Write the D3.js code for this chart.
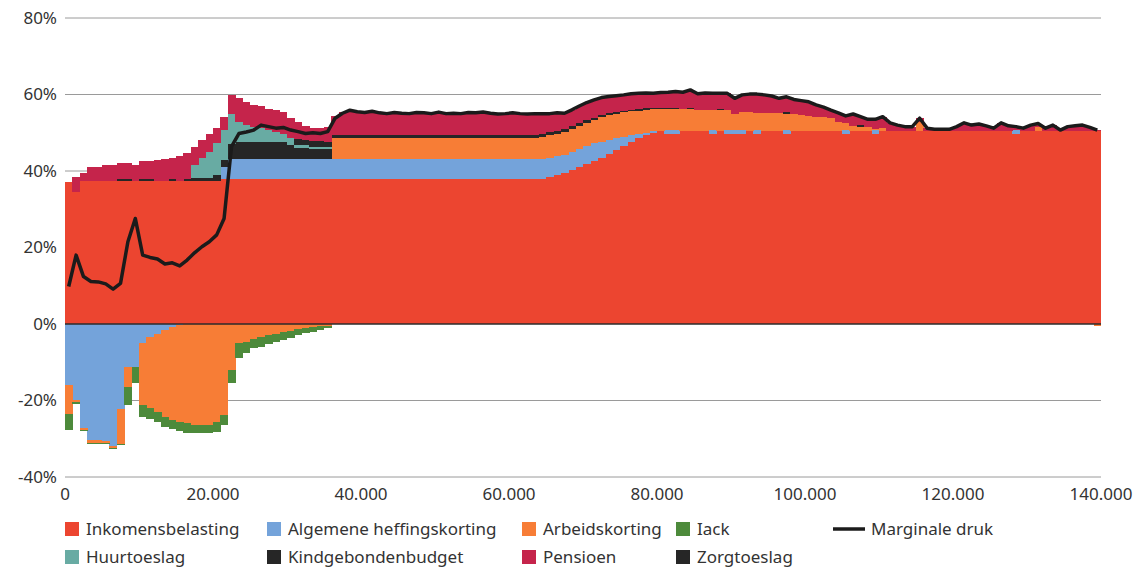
<!DOCTYPE html>
<html>
<head>
<meta charset="utf-8">
<script src="https://cdn.jsdelivr.net/npm/d3@7"></script>
<style>
  html, body { margin: 0; padding: 0; background: #fff; }
  svg { display: block; font-family: "Noto Sans", "DejaVu Sans", sans-serif; }
</style>
</head>
<body>
<svg id="chart" width="1148" height="568"></svg>
<script>
// Income steps (thousands of euros, lower bound of each 1.000 band)
const incomeK = [0,1,2,3,4,5,6,7,8,9,10,11,12,13,14,15,16,17,18,19,20,21,22,23,24,25,26,27,28,29,30,31,32,33,34,35,36,37,38,39,40,41,42,43,44,45,46,47,48,49,50,51,52,53,54,55,56,57,58,59,60,61,62,63,64,65,66,67,68,69,70,71,72,73,74,75,76,77,78,79,80,81,82,83,84,85,86,87,88,89,90,91,92,93,94,95,96,97,98,99,100,101,102,103,104,105,106,107,108,109,110,111,112,113,114,115,116,117,118,119,120,121,122,123,124,125,126,127,128,129,130,131,132,133,134,135,136,137,138,139];

// Series values (percentage points)
const inkomensbelasting = [37,34.5,37.5,37.5,37.5,37.5,37.5,37.5,37.5,37.5,37.5,37.5,37.5,37.5,37.5,37.5,37.5,37.5,37.5,37.5,37.5,38,38,38,38,38,38,38,38,38,38,38,38,38,38,38,38,38,38,38,38,38,38,38,38,38,38,38,38,38,38,38,38,38,38,38,38,38,38,38,38,38,38,38,38,38.5,39,39.5,40.3,41,41.8,42.5,43.5,44.5,45.5,46.5,47.5,48.5,49.3,50,50.5,49.8,49.8,50.5,50.5,50.5,50.5,49.8,50.5,49.8,49.8,49.8,50.5,49.8,50.5,50.5,50.5,49.8,50.5,50.5,50.5,50.5,50.5,50.5,50.5,49.8,50.5,50.5,50.5,49.8,50.5,50.5,50.5,50.5,50.5,50.5,50.5,50.5,50.5,50.5,50.5,50.5,50.5,50.5,50.5,50.5,50.5,50.5,49.8,50.5,50.5,50.5,50.5,50.5,50.5,50.5,50.5,50.5,50.5,50.5];
const algemeneHeffingskorting = [-16,-19.8,-27.2,-30.4,-30.4,-30.6,-31.9,-22.2,-11.2,-11.2,-5,-3.5,-2.5,-1.5,-0.8,-0.3,0,0,0,0,0,3,5.2,5.2,5.2,5.2,5.2,5.2,5.2,5.2,5.2,5.2,5.2,5.2,5.2,5.2,5.2,5.2,5.2,5.2,5.2,5.2,5.2,5.2,5.2,5.2,5.2,5.2,5.2,5.2,5.2,5.2,5.2,5.2,5.2,5.2,5.2,5.2,5.2,5.2,5.2,5.2,5.2,5.2,5.2,4.9,4.8,4.8,4.7,4.7,4.7,4.7,4.2,3.7,3.1,2.5,1.9,1.3,0.7,0.4,0,0.8,0.8,0,0,0,0,0.8,0,0.8,0.8,0.8,0,0.8,0,0,0,0.8,0,0,0,0,0,0,0,0.8,0,0,0,0.8,0,0,0,0,0,0,0,0,0,0,0,0,0,0,0,0,0,0,0.8,0,0,0,0,0,0,0,0,0,0,0];
const arbeidskorting = [-7.5,-0.6,-0.5,-0.6,-0.6,-0.5,-0.5,-9.2,-5.3,0,-16.2,-18.5,-20.5,-22.7,-24.2,-25.2,-26,-26.3,-26.4,-26.3,-25.7,-23.9,-12,-5,-4.6,-3.9,-3.3,-3,-2.7,-2.2,-1.8,-1.3,-1.1,-0.9,-0.6,-0.4,5.3,5.3,5.3,5.3,5.3,5.3,5.3,5.3,5.3,5.3,5.3,5.3,5.3,5.3,5.3,5.3,5.3,5.3,5.3,5.3,5.3,5.3,5.3,5.3,5.3,5.3,5.3,5.3,5.6,5.9,5.9,5.9,6,6.1,6.1,6.1,6.3,6.4,6.4,6.4,6.2,6,6,5.8,5.7,5.6,5.6,5.7,5.7,5.5,5.5,5.4,5.5,5.4,4.4,4.7,4.8,4.6,4.6,4.6,4.6,4.2,4.3,4.1,4,3.6,3.5,3.3,2.2,1.9,1.2,1,1,0.5,0.8,0,0,0,0,2.3,0,0,0,0,0,0,0,0,0,0,0,0,0,0,0,1,0,0,0,0,0,0,0,-0.5];
const iack = [-4.2,-0.4,-0.3,-0.3,-0.3,-0.3,-0.3,-0.3,-4.7,-4.2,-3,-2.8,-2.5,-2.6,-2.5,-2.5,-2.4,-2.2,-2.1,-2.2,-2.5,-2.5,-3.5,-3.8,-3.1,-2.5,-2.6,-2.3,-1.9,-2,-1.8,-1.7,-1.3,-1.1,-1,-0.6,0,0,0,0,0,0,0,0,0,0,0,0,0,0,0,0,0,0,0,0,0,0,0,0,0,0,0,0,0,0,0,0,0,0,0,0,0,0,0,0,0,0,0,0,0,0,0,0,0,0,0,0,0,0,0,0,0,0,0,0,0,0,0,0,0,0,0,0,0,0,0,0,0,0,0,0,0,0,0,0,0,0,0,0,0,0,0,0,0,0,0,0,0,0,0,0,0,0,0,0,0,0,0,0];
const kindgebondenbudget = [0,0,0,0,0,0,0,0,0,0,0,0,0,0,0,0,0,0.6,0.6,0.6,1.5,2,3.8,4.3,4.3,4.3,4.3,4.3,4.3,4.3,3.5,2.7,2.7,2.5,2.5,2.5,1,1,1,1,1,1,1,1,1,1,1,1,1,1,1,1,1,1,1,1,1,1,1,1,1,1,1,1,0.9,0.9,0.8,0.8,0.8,0.8,0.8,0.6,0.6,0.5,0.5,0.4,0.4,0.4,0.4,0.4,0.3,0.3,0.3,0,0.3,0,0,0,0.3,0,0,0,0,0,0,0,0,0.5,0,0,0,0,0,0,0,0,0,0.5,0,0,0,0,0,0,0,0,0,0,0,0,0,0,0,0,0,0,0,0,0,0,0,0,0,0,0,0,0,0,0,0];
const huurtoeslag = [0,0,0,0,0,0,0,0,0,0,0,0,0,0,0,0,0,3.5,5.3,6.9,8.3,7.7,7.8,5.2,4.5,4,3.7,3.2,2.8,2.1,2,1,0.8,0.6,0.6,0.5,0,0,0,0,0,0,0,0,0,0,0,0,0,0,0,0,0,0,0,0,0,0,0,0,0,0,0,0,0,0,0,0,0,0,0,0,0,0,0,0,0,0,0,0,0,0,0,0,0,0,0,0,0,0,0,0,0,0,0,0,0,0,0,0,0,0,0,0,0,0,0,0,0,0,0,0,0,0,0,0,0,0,0,0,0,0,0,0,0,0,0,0,0,0,0,0,0,0,0,0,0,0,0,0];
const zorgtoeslag = [0,0,0,0,0,0,0,0.5,0.5,0,0.5,0.5,0,0,0.4,0,0.4,0,0,0,0,0,0,0,0,0,0,0,0,0,0,1.5,1.5,1.5,1.5,1.5,0,0,0,0,0,0,0,0,0,0,0,0,0,0,0,0,0,0,0,0,0,0,0,0,0,0,0,0,0,0,0,0,0,0,0,0,0,0,0,0,0,0,0,0,0,0,0,0,0,0,0,0,0,0,0,0,0,0,0,0,0,0,0,0,0,0,0,0,0,0,0,0,0,0,0,0,0,0,0,0,0,0,0,0,0,0,0,0,0,0,0,0,0,0,0,0,0,0,0,0,0,0,0,0];
const pensioen = [0,4,2,3.6,3.6,4.1,4.1,4,4,4.1,4.5,4.5,5.4,5.7,5.6,6.5,6.7,4.8,4.7,4.6,4,3.3,5.1,6.3,6,5.8,5.9,5.5,5.7,5.7,5.1,4.5,3.6,3.5,3.5,3.8,5,5.8,6.2,6,5.8,6.1,5.7,5.5,5.8,5.6,5.5,5.8,5.7,5.5,5.9,5.5,5.6,5.5,5.8,5.7,5.9,5.6,5.4,5.5,5.7,5.5,5.4,5.5,5.3,4.8,4.7,4.1,4.2,4.4,4.5,4.7,4.6,4.4,4.2,4.1,4.2,4.1,4,3.7,4,4.1,4.3,4.4,4.7,4.2,4.4,4.3,4,4.3,4,4.6,4.8,4.9,4.8,4.5,3.9,4.1,3.9,3.8,3.6,3.2,2.7,2.1,2.5,1.9,3.2,2.2,2,2.4,2.9,2.1,1.5,1.1,1.1,1,0.7,0.4,0.4,0.4,1.1,2.1,1.5,1.8,1.3,0.7,2.1,1.3,1,0.7,1.5,0.9,0.7,1.5,0.2,1.1,1.3,1.5,0.9,0.2];
const marginaleDruk = [9.8,18,12.4,11.1,11,10.5,9.1,10.6,21.5,27.6,18,17.4,17,15.7,16,15.2,16.7,18.6,20.2,21.5,23.3,27.6,46.4,49.8,50.2,50.7,52,51.6,51.2,51.4,50.7,50.3,49.8,50,49.8,50.3,53.8,55.1,55.9,55.5,55.3,55.6,55.2,55,55.3,55.1,55,55.3,55.2,55,55.4,55,55.1,55,55.3,55.2,55.4,55.1,54.9,55,55.2,55,54.9,55,55,55,55.2,55.1,56,57,57.9,58.6,59.2,59.5,59.7,59.9,60.2,60.3,60.4,60.3,60.5,60.6,60.8,60.6,61.2,60.2,60.4,60.3,60.3,60.3,59,59.9,60.1,60.1,59.9,59.6,59,59.4,58.7,58.4,58.1,57.3,56.7,55.9,55.2,54.4,54.9,54.2,53.5,53.5,54.2,52.6,52,51.6,51.6,53.8,51.2,50.9,50.9,50.9,51.6,52.6,52,52.3,51.8,51.2,52.6,51.8,51.6,51.2,52,52.4,51.2,52,50.7,51.6,51.8,52,51.4,50.7];

const yTicks = [-40, -20, 0, 20, 40, 60, 80];
const xTicks = [0, 20000, 40000, 60000, 80000, 100000, 120000, 140000];

const seriesKeys = ["Inkomensbelasting", "Algemene heffingskorting", "Arbeidskorting", "Iack",
                    "Kindgebondenbudget", "Huurtoeslag", "Zorgtoeslag", "Pensioen"];
const seriesData = [inkomensbelasting, algemeneHeffingskorting, arbeidskorting, iack,
                    kindgebondenbudget, huurtoeslag, zorgtoeslag, pensioen];
const colors = {
  "Inkomensbelasting": "#ec4530",
  "Algemene heffingskorting": "#74a3da",
  "Arbeidskorting": "#f77d36",
  "Iack": "#4d8a3b",
  "Kindgebondenbudget": "#262626",
  "Huurtoeslag": "#68aba3",
  "Zorgtoeslag": "#262626",
  "Pensioen": "#c5244b"
};
const legendRows = [
  ["Inkomensbelasting", "Algemene heffingskorting", "Arbeidskorting", "Iack", "Marginale druk"],
  ["Huurtoeslag", "Kindgebondenbudget", "Pensioen", "Zorgtoeslag"]
];

const rows = incomeK.map((k, i) => {
  const r = { income: k * 1000 };
  seriesKeys.forEach((key, j) => { r[key] = seriesData[j][i]; });
  return r;
});

const svg = d3.select("#chart");
const x = d3.scaleLinear().domain([0, 140000]).range([65, 1101]);
const y = d3.scaleLinear().domain([-40, 80]).range([477, 18]);

// grid lines
svg.append("g").selectAll("line")
  .data(yTicks.filter(t => t !== 0))
  .join("line")
  .attr("x1", x(0)).attr("x2", x(140000))
  .attr("y1", d => y(d)).attr("y2", d => y(d))
  .attr("stroke", "#9a9a9a").attr("stroke-width", 1);

// stacked bars
const stack = d3.stack().keys(seriesKeys).offset(d3.stackOffsetDiverging);
const stacked = stack(rows);

const gBars = svg.append("g").attr("shape-rendering", "crispEdges");
stacked.forEach(s => {
  gBars.append("g")
    .attr("fill", colors[s.key])
    .selectAll("rect")
    .data(s.filter(d => Math.abs(d[1] - d[0]) > 1e-9))
    .join("rect")
    .attr("x", d => x(d.data.income))
    .attr("width", d => x(d.data.income + 1000) - x(d.data.income) + 0.3)
    .attr("y", d => y(Math.max(d[0], d[1])))
    .attr("height", d => Math.abs(y(d[0]) - y(d[1])));
});

// zero line
svg.append("line")
  .attr("x1", x(0)).attr("x2", x(140000))
  .attr("y1", y(0)).attr("y2", y(0))
  .attr("stroke", "#2b2b2b").attr("stroke-width", 1.6);

// marginal pressure line
const line = d3.line()
  .x((d, i) => x(incomeK[i] * 1000 + 500))
  .y(d => y(d));
svg.append("path")
  .datum(marginaleDruk)
  .attr("d", line)
  .attr("fill", "none")
  .attr("stroke", "#1b1b1b")
  .attr("stroke-width", 3.5)
  .attr("stroke-linejoin", "round");

// y axis labels
svg.append("g").selectAll("text")
  .data(yTicks)
  .join("text")
  .attr("x", 57)
  .attr("y", d => y(d))
  .attr("dy", "0.35em")
  .attr("text-anchor", "end")
  .attr("font-size", 17)
  .attr("fill", "#333")
  .text(d => d + "%");

// x axis labels
const fmt = d => d === 0 ? "0" : d3.format(",")(d).replace(/,/g, ".");
svg.append("g").selectAll("text")
  .data(xTicks)
  .join("text")
  .attr("x", d => x(d))
  .attr("y", 494)
  .attr("dy", "0.35em")
  .attr("text-anchor", "middle")
  .attr("font-size", 17)
  .attr("fill", "#333")
  .text(fmt);

// legend
const colX = [65, 267, 522, 676, 833];
const rowY = [529, 557];
legendRows.forEach((row, ri) => {
  row.forEach((key, ci) => {
    const g = svg.append("g").attr("transform", `translate(${colX[ci]},${rowY[ri]})`);
    let tx;
    if (key === "Marginale druk") {
      g.append("line").attr("x1", 0).attr("x2", 32).attr("y1", 0).attr("y2", 0)
        .attr("stroke", "#1b1b1b").attr("stroke-width", 3.5);
      tx = 38;
    } else {
      g.append("rect").attr("x", 0).attr("y", -7).attr("width", 14).attr("height", 14)
        .attr("fill", colors[key]);
      tx = 21;
    }
    g.append("text").attr("x", tx).attr("y", 0).attr("dy", "0.35em")
      .attr("font-size", 17).attr("fill", "#333").text(key);
  });
});
</script>
</body>
</html>
